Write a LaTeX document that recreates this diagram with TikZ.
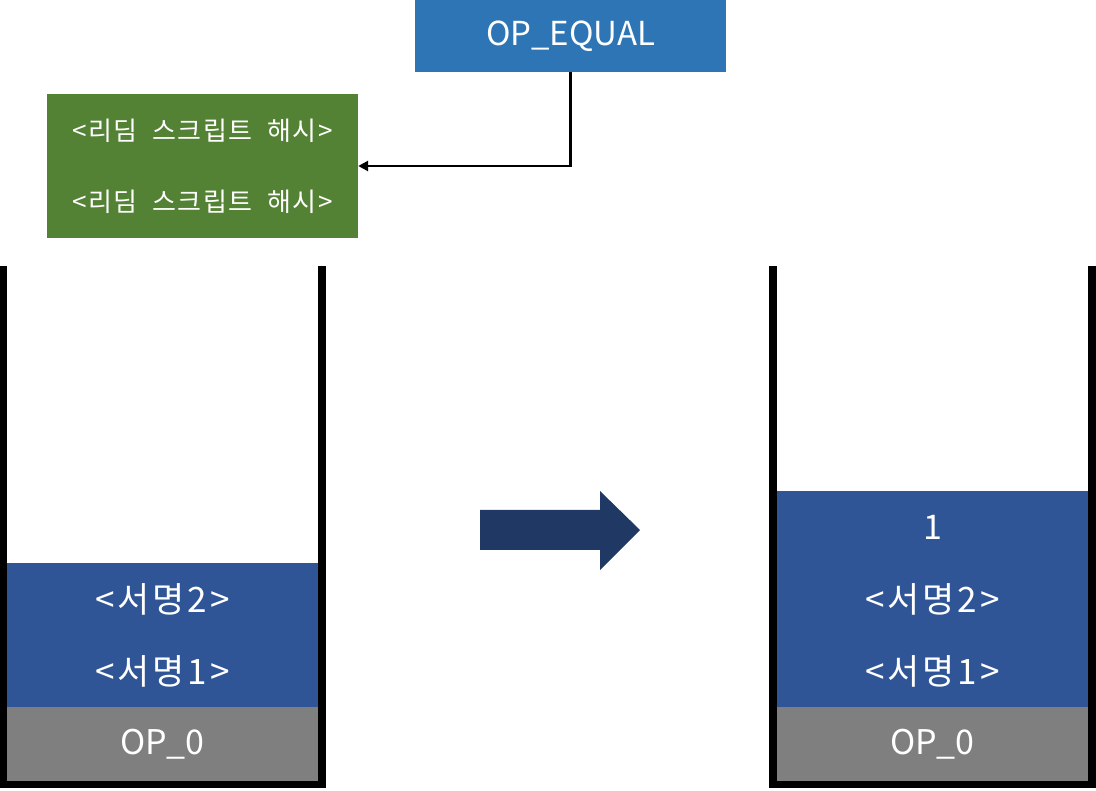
\documentclass[tikz,border=0pt]{standalone}
\usepackage{fontspec}
\setmainfont{Noto Sans CJK KR}
\newfontfamily\stackfont[LetterSpace=8]{Noto Sans CJK KR}
\newfontfamily\hashfont[LetterSpace=6,WordSpace=2]{Noto Sans CJK KR}
\usepackage{tikz}
\usetikzlibrary{arrows.meta,calc,positioning}
\definecolor{opblue}{HTML}{2E75B6}
\definecolor{hashgreen}{HTML}{548235}
\definecolor{sigblue}{HTML}{2F5597}
\definecolor{opgray}{HTML}{7F7F7F}
\definecolor{arrowblue}{HTML}{203864}

\begin{document}
\begin{tikzpicture}[x=1pt,y=-1pt,
  cell/.style={fill=sigblue,draw=sigblue,line width=1pt,text=white,inner sep=0pt,
               minimum width=310pt,minimum height=71pt,
               font=\fontsize{34}{38}\selectfont},
  sigcell/.style={cell,font=\stackfont\fontsize{35}{38}\selectfont},
  graycell/.style={cell,fill=opgray,draw=opgray,minimum height=73pt},
  wall/.style={line width=7.5pt,miter limit=10}]
 \useasboundingbox (0,0) rectangle (1096,791);
 % script part
 \node[fill=opblue,text=white,inner sep=0pt,minimum width=311pt,minimum height=72pt,
       font=\fontsize{33}{38}\selectfont] (opeq) at (570.5,36) {OP\_EQUAL};
 \node[fill=hashgreen,text=white,inner sep=0pt,minimum width=311pt,minimum height=144pt,
       align=center,font=\hashfont\fontsize{26}{71}\selectfont] (hash) at (202.5,166)
       {<리딤 스크립트 해시>\\<리딤 스크립트 해시>};
 \draw[line width=2.5pt,-{Triangle[length=10pt,width=10pt]}] (opeq.south) |- (hash.east);
 % stack before
 \node[graycell] (lop0) at (162.5,744) {OP\_0};
 \node[sigcell] (lsig1) at (162.5,671) {<서명1>};
 \node[sigcell] (lsig2) at (162.5,599) {<서명2>};
 \draw[wall] (3.5,266) -- (3.5,784.5) -- (322,784.5) -- (322,266);
 % stack after
 \node[graycell] (rop0) at (932.5,744) {OP\_0};
 \node[sigcell] (rsig1) at (932.5,671) {<서명1>};
 \node[sigcell] (rsig2) at (932.5,599) {<서명2>};
 \node[cell] (rone) at (932.5,527) {1};
 \draw[wall] (773,266) -- (773,784.5) -- (1092,784.5) -- (1092,266);
 % big arrow
 \fill[arrowblue] (480,510) -- (600,510) -- (600,491) -- (640,530) -- (600,570)
   -- (600,550) -- (480,550) -- cycle;
\end{tikzpicture}
\end{document}
